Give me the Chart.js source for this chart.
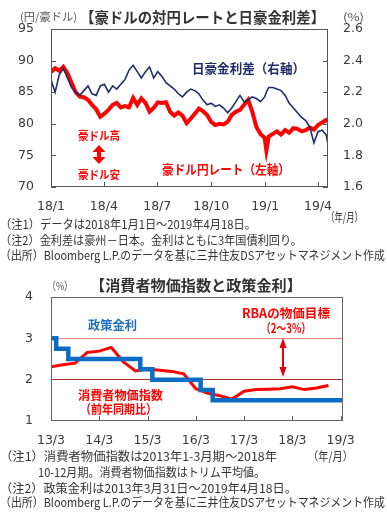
<!DOCTYPE html>
<html>
<head>
<meta charset="utf-8">
<script src="https://cdn.jsdelivr.net/npm/chart.js@4.4.0/dist/chart.umd.min.js"></script>
<style>
html, body { margin: 0; padding: 0; background: #fff; }
body { width: 387px; height: 512px; position: relative; overflow: hidden; font-family: "Noto Sans CJK JP", sans-serif; }
canvas { position: absolute; left: 0; }
.t { position: absolute; white-space: nowrap; line-height: 1; transform-origin: 0 50%; }
.b { font-weight: bold; }
.red { color: #ff0000; }
.note { font-size: 12px; color: #333; }
svg { position: absolute; left: 0; top: 0; pointer-events: none; }
</style>
</head>
<body>
<canvas id="fxChart" width="387" height="215" style="top:0"></canvas>
<canvas id="cpiChart" width="387" height="180" style="top:270px"></canvas>

<!-- top chart texts -->
<div class="t" data-w="57" style="left:20px;top:10.5px;font-size:11px;color:#555">(円/豪ドル)</div>
<div class="t b" data-w="245" style="left:80px;top:8.5px;font-size:15px;color:#333">【豪ドルの対円レートと日豪金利差】</div>
<div class="t" data-w="21" style="left:343px;top:10.5px;font-size:11px;color:#555">(%)</div>
<div class="t b" data-w="113" style="left:192px;top:60.5px;font-size:13px;color:#1f2d6b">日豪金利差（右軸）</div>
<div class="t b red" data-w="42" style="left:78px;top:130px;font-size:11.5px">豪ドル高</div>
<div class="t b red" data-w="42" style="left:78px;top:169px;font-size:11.5px">豪ドル安</div>
<div class="t b red" data-w="128" style="left:162px;top:161.5px;font-size:13px">豪ドル円レート（左軸）</div>
<div class="t note" data-w="37" style="left:326px;top:211px">（年/月）</div>
<div class="t note" data-w="256" style="left:0;top:218px">（注1）データは2018年1月1日～2019年4月18日。</div>
<div class="t note" data-w="302" style="left:0;top:234px">（注2）金利差は豪州－日本。金利はともに3年国債利回り。</div>
<div class="t note" data-w="385" style="left:0;top:249px">（出所）Bloomberg L.P.のデータを基に三井住友DSアセットマネジメント作成</div>

<!-- bottom chart texts -->
<div class="t" data-w="26" style="left:47px;top:279.5px;font-size:11px;color:#555">（%）</div>
<div class="t b" data-w="212" style="left:90px;top:276.5px;font-size:15px;color:#333">【消費者物価指数と政策金利】</div>
<div class="t b" data-w="49" style="left:88px;top:318.5px;font-size:12.5px;color:#1e6fbf">政策金利</div>
<div class="t b red" data-w="88" style="left:242px;top:306.5px;font-size:12.5px">RBAの物価目標</div>
<div class="t b red" data-w="50" style="left:261px;top:321.5px;font-size:12.5px">（2～3%）</div>
<div class="t b red" data-w="85" style="left:78px;top:388.5px;font-size:12.5px">消費者物価指数</div>
<div class="t b red" data-w="77" style="left:80px;top:402.5px;font-size:12.5px">（前年同期比）</div>
<div class="t note" data-w="45" style="left:308px;top:450px">（年/月）</div>
<div class="t note" data-w="277" style="left:0;top:450px">（注1）消費者物価指数は2013年1-3月期～2018年</div>
<div class="t note" data-w="227" style="left:38px;top:466px">10-12月期。消費者物価指数はトリム平均値。</div>
<div class="t note" data-w="297" style="left:0;top:482px">（注2）政策金利は2013年3月31日～2019年4月18日。</div>
<div class="t note" data-w="385" style="left:0;top:496px">（出所）Bloomberg L.P.のデータを基に三井住友DSアセットマネジメント作成</div>

<svg width="387" height="512">
  <polygon fill="#ff0000" points="99,145 92.5,152 97,152 97,157 92.5,157 99,164 105.5,157 101,157 101,152 105.5,152"/>
  <polygon fill="#e60012" points="283,338 279.5,348 282,348 282,367 279.5,367 283,377 286.5,367 284,367 284,348 286.5,348"/>
</svg>

<script>
// top chart: days counted from 2018/1/1, last day is 2019/4/18
const fxDays = [0, 7, 14, 21, 28, 35, 42, 49, 56, 63, 70, 77, 84, 91, 98, 105, 112, 119, 126, 133,
  140, 147, 154, 161, 168, 175, 182, 189, 196, 203, 210, 217, 224, 231, 238, 245, 252, 259, 266, 273,
  280, 287, 294, 301, 308, 315, 322, 329, 336, 343, 350, 357, 364, 367, 371, 378, 385, 392, 399, 406,
  413, 420, 427, 434, 441, 448, 455, 462, 469, 472];
// AUD/JPY (yen per AUD), left axis
const audJpy = [88.2, 88.8, 88.4, 89.0, 88.0, 86.5, 85.0, 84.3, 84.2, 83.8,
  83.0, 82.3, 81.1, 81.6, 82.2, 83.0, 83.3, 82.6, 82.8, 82.6,
  84.1, 83.0, 84.0, 83.3, 81.9, 82.5, 83.4, 83.3, 83.4, 81.9,
  81.3, 81.8, 81.3, 80.1, 80.8, 81.6, 82.4, 82.0, 81.4, 80.3,
  79.8, 80.0, 79.9, 80.3, 81.4, 81.9, 82.2, 83.0, 83.8, 81.9,
  79.5, 78.4, 77.8, 75.8, 78.0, 78.4, 78.8, 78.3, 79.0, 78.6,
  79.3, 79.2, 78.8, 79.0, 79.4, 79.1, 79.8, 80.2, 80.6, 80.4];
// AU minus JP 3y yield (%), right axis
const rateSpread = [2.28, 2.20, 2.31, 2.35, 2.29, 2.23, 2.20, 2.18, 2.21, 2.24,
  2.19, 2.18, 2.24, 2.25, 2.20, 2.24, 2.22, 2.25, 2.28, 2.34,
  2.37, 2.33, 2.29, 2.33, 2.36, 2.29, 2.33, 2.30, 2.26, 2.24,
  2.22, 2.19, 2.17, 2.20, 2.22, 2.21, 2.19, 2.15, 2.12, 2.13,
  2.11, 2.12, 2.10, 2.07, 2.10, 2.14, 2.18, 2.14, 2.15, 2.17,
  2.16, 2.14, 2.17, 2.20, 2.23, 2.23, 2.22, 2.21, 2.18, 2.13,
  2.10, 2.07, 2.04, 2.02, 1.98, 1.88, 1.95, 1.96, 1.93, 1.87];
const fxTickDays = [0, 90, 181, 273, 365, 455];
const fxTickLabels = ['18/1', '18/4', '18/7', '18/10', '19/1', '19/4'];
const audJpyTicks = [70, 75, 80, 85, 90, 95];
const spreadTicks = [1.6, 1.8, 2.0, 2.2, 2.4, 2.6];

// bottom chart: months counted from 2013/3/31
const cpiMonths = [0, 3, 6, 9, 12, 15, 18, 21, 24, 27, 30, 33, 36, 39, 42, 45, 48, 51, 54, 57, 60, 63, 66, 69];
const cpiYoY = [2.31, 2.36, 2.40, 2.66, 2.69, 2.78, 2.43, 2.21, 2.26, 2.23, 2.20, 2.14,
  1.78, 1.67, 1.61, 1.53, 1.72, 1.76, 1.77, 1.78, 1.83, 1.76, 1.80, 1.86];
const policyMonths = [0, 1.3, 4.3, 22.2, 25.2, 37.2, 40.2, 72.6];
const policyRate = [3.0, 2.75, 2.5, 2.25, 2.0, 1.75, 1.5, 1.5];
const cpiTickMonths = [0, 12, 24, 36, 48, 60, 72];
const cpiTickLabels = ['13/3', '14/3', '15/3', '16/3', '17/3', '18/3', '19/3'];
const pctTicks = [1, 2, 3, 4];

const tickFont = { family: 'DejaVu Sans', size: 12.5 };
const tickColor = '#3a3a3a';

// frame round the plot plus small inward tick marks
const framePlugin = {
  id: 'frame',
  afterDatasetsDraw(chart, args, opts) {
    const { ctx, chartArea: a } = chart;
    ctx.save();
    ctx.strokeStyle = opts.color;
    ctx.lineWidth = 1;
    ctx.strokeRect(a.left + 0.5, a.top + 0.5, a.right - a.left - 1, a.bottom - a.top - 1);
    (opts.ticks || []).forEach(id => {
      const s = chart.scales[id];
      s.ticks.forEach(t => {
        const p = Math.round(s.getPixelForValue(t.value)) + 0.5;
        ctx.beginPath();
        if (s.axis === 'x') {
          ctx.moveTo(p, a.bottom);
          ctx.lineTo(p, a.bottom - opts.len);
        } else if (s.position === 'left') {
          ctx.moveTo(a.left, p);
          ctx.lineTo(a.left + opts.len, p);
        } else {
          ctx.moveTo(a.right, p);
          ctx.lineTo(a.right - opts.len, p);
        }
        ctx.stroke();
      });
    });
    ctx.restore();
  }
};

function fixedTicks(values) {
  return scale => { scale.ticks = values.map(v => ({ value: v })); };
}

const noGrid = { display: false, drawTicks: false };

new Chart(document.getElementById('fxChart'), {
  type: 'line',
  data: {
    datasets: [
      {
        label: '日豪金利差（右軸）',
        data: fxDays.map((d, i) => ({ x: d, y: rateSpread[i] })),
        yAxisID: 'y2',
        borderColor: '#1f2d6b',
        borderWidth: 1.6,
        pointRadius: 0,
        order: 0
      },
      {
        label: '豪ドル円レート（左軸）',
        data: fxDays.map((d, i) => ({ x: d, y: audJpy[i] })),
        yAxisID: 'y',
        borderColor: '#ff0000',
        borderWidth: 4,
        pointRadius: 0,
        order: 1
      }
    ]
  },
  options: {
    responsive: false,
    animation: false,
    layout: { padding: { top: 29, left: 0, right: 0, bottom: 0 } },
    plugins: {
      legend: { display: false },
      tooltip: { enabled: false },
      frame: { color: '#555', len: 5, ticks: ['x', 'y', 'y2'] }
    },
    scales: {
      x: {
        type: 'linear', min: 0, max: 472,
        grid: noGrid, border: { display: false },
        afterBuildTicks: fixedTicks(fxTickDays),
        afterFit: s => { s.height = 28; },
        ticks: { autoSkip: false, maxRotation: 0, padding: 12, font: tickFont, color: tickColor,
          callback: (v, i) => fxTickLabels[i] }
      },
      y: {
        position: 'left', min: 70, max: 95,
        grid: noGrid, border: { display: false },
        afterBuildTicks: fixedTicks(audJpyTicks),
        afterFit: s => { s.width = 51; },
        ticks: { padding: 17, font: tickFont, color: tickColor }
      },
      y2: {
        position: 'right', min: 1.6, max: 2.6,
        grid: noGrid, border: { display: false },
        afterBuildTicks: fixedTicks(spreadTicks),
        afterFit: s => { s.width = 59; },
        ticks: { padding: 15, font: tickFont, color: tickColor, callback: v => v.toFixed(1) }
      }
    }
  },
  plugins: [framePlugin]
});

new Chart(document.getElementById('cpiChart'), {
  type: 'line',
  data: {
    datasets: [
      {
        label: '政策金利',
        data: policyMonths.map((m, i) => ({ x: m, y: policyRate[i] })),
        borderColor: '#0b6cc4',
        borderWidth: 4.5,
        stepped: 'before',
        pointRadius: 0,
        order: 0
      },
      {
        label: '消費者物価指数（前年同期比）',
        data: cpiMonths.map((m, i) => ({ x: m, y: cpiYoY[i] })),
        borderColor: '#ff0000',
        borderWidth: 3,
        pointRadius: 0,
        order: 1
      }
    ]
  },
  options: {
    responsive: false,
    animation: false,
    layout: { padding: { top: 27, left: 0, right: 44, bottom: 0 } },
    plugins: {
      legend: { display: false },
      tooltip: { enabled: false },
      frame: { color: '#666', len: 5, ticks: ['x'] }
    },
    scales: {
      x: {
        type: 'linear', min: 0, max: 72.6,
        grid: noGrid, border: { display: false },
        afterBuildTicks: fixedTicks(cpiTickMonths),
        afterFit: s => { s.height = 29; },
        ticks: { autoSkip: false, maxRotation: 0, padding: 12, font: tickFont, color: tickColor,
          callback: (v, i) => cpiTickLabels[i] }
      },
      y: {
        position: 'left', min: 1, max: 4,
        border: { display: false },
        grid: {
          drawTicks: false,
          lineWidth: 1,
          color: c => c.tick.value === 3 ? '#f08080' : (c.tick.value === 2 ? '#b03030' : 'transparent')
        },
        afterBuildTicks: fixedTicks(pctTicks),
        afterFit: s => { s.width = 51; },
        ticks: { padding: 18, font: tickFont, color: tickColor }
      }
    }
  },
  plugins: [framePlugin]
});

// squeeze or stretch each text to the width it has in the reference
document.querySelectorAll('.t[data-w]').forEach(el => {
  const w = el.getBoundingClientRect().width;
  if (w > 0) el.style.transform = 'scaleX(' + (parseFloat(el.dataset.w) / w).toFixed(3) + ')';
});
</script>
</body>
</html>
